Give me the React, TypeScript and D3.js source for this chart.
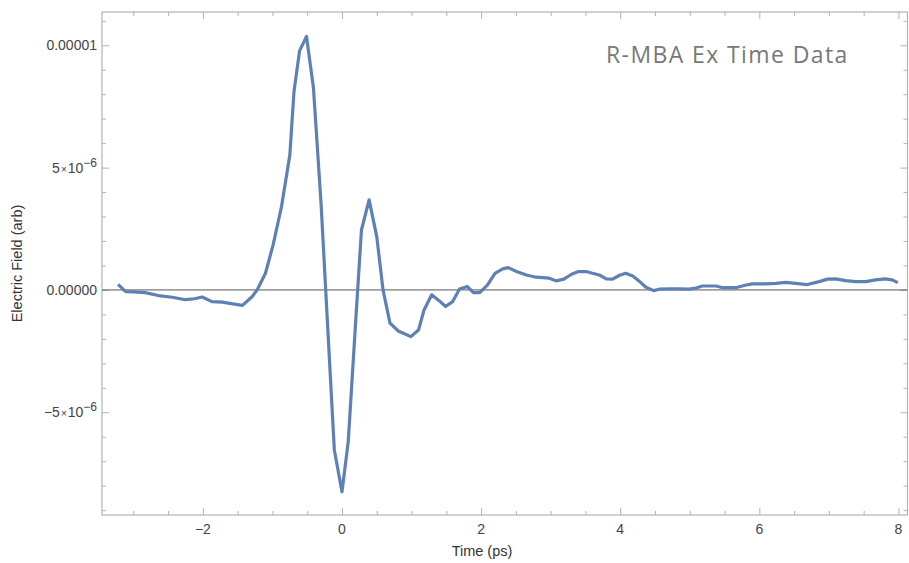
import React, { useEffect, useRef } from "react"
import * as d3 from "d3"

// time axis (ps) and electric field (units of 1e-6, arb)
const timePs = [
  -3.22, -3.11, -3.0, -2.83, -2.64, -2.44, -2.25, -2.12, -2.01, -1.87, -1.72, -1.57,
  -1.43, -1.29, -1.22, -1.1, -0.99, -0.87, -0.75, -0.69, -0.61, -0.51, -0.41, -0.3,
  -0.2, -0.11, 0.0, 0.09, 0.19, 0.28, 0.39, 0.5, 0.59, 0.69, 0.81, 0.99, 1.1, 1.18,
  1.29, 1.4, 1.49, 1.59, 1.69, 1.8, 1.89, 1.98, 2.09, 2.2, 2.31, 2.39, 2.51, 2.65,
  2.79, 2.98, 3.08, 3.19, 3.3, 3.4, 3.51, 3.6, 3.7, 3.8, 3.89, 3.99, 4.08, 4.18,
  4.28, 4.37, 4.48, 4.56, 4.71, 4.85, 4.99, 5.09, 5.18, 5.38, 5.47, 5.66, 5.81,
  5.9, 6.09, 6.24, 6.38, 6.52, 6.69, 6.86, 6.98, 7.1, 7.24, 7.38, 7.53, 7.67, 7.81,
  7.91, 7.99,
]
const fieldE6 = [
  0.23, -0.07, -0.08, -0.11, -0.23, -0.3, -0.4, -0.36, -0.29, -0.48, -0.5, -0.57,
  -0.63, -0.27, 0.0, 0.68, 1.84, 3.4, 5.5, 8.1, 9.77, 10.36, 8.25, 3.5,
  -1.8, -6.54, -8.25, -6.2, -1.6, 2.45, 3.68, 2.18, 0.0, -1.36, -1.68, -1.91, -1.64, -0.82,
  -0.2, -0.45, -0.68, -0.48, 0.04, 0.14, -0.11, -0.11, 0.2, 0.68, 0.86, 0.91, 0.75, 0.61,
  0.52, 0.48, 0.37, 0.44, 0.64, 0.75, 0.75, 0.68, 0.61, 0.45, 0.44, 0.6, 0.68, 0.57,
  0.34, 0.11, -0.03, 0.03, 0.04, 0.04, 0.03, 0.08, 0.16, 0.16, 0.09, 0.09, 0.2,
  0.25, 0.25, 0.27, 0.31, 0.27, 0.22, 0.34, 0.44, 0.45, 0.38, 0.34, 0.34, 0.41, 0.45,
  0.41, 0.3,
]

const xMajor = [-2, 0, 2, 4, 6, 8]
const xMinor = [-3, -2.5, -1.5, -1, -0.5, 0.5, 1, 1.5, 2.5, 3, 3.5, 4.5, 5, 5.5, 6.5, 7, 7.5]
const yMajor = [-5e-6, 0, 5e-6, 1e-5]
const yMinor = [-9e-6, -8e-6, -7e-6, -6e-6, -4e-6, -3e-6, -2e-6, -1e-6, 1e-6, 2e-6, 3e-6, 4e-6, 6e-6, 7e-6, 8e-6, 9e-6, 1.1e-5]
const yLabels = [
  { v: 1e-5, plain: "0.00001" },
  { v: 5e-6, mant: "5", exp: "\u22126" },
  { v: 0, plain: "0.00000" },
  { v: -5e-6, mant: "\u22125", exp: "\u22126" },
]

const title = "R-MBA Ex Time Data"
const xTitle = "Time (ps)"
const yTitle = "Electric Field (arb)"

function App() {
  const svgRef = useRef<SVGSVGElement | null>(null)

  useEffect(() => {
    const width = 909
    const height = 563
    const left = 102
    const right = 907.5
    const top = 12
    const bottom = 515

    const svg = d3.select(svgRef.current)
    svg.selectAll("*").remove()
    svg.attr("width", width).attr("height", height)

    const x = d3.scaleLinear().domain([-3.45, 8.13]).range([left, right])
    const y = d3.scaleLinear().domain([-9.2e-6, 1.136e-5]).range([bottom, top])

    const frameColor = "#b3b3b3"
    const font = "'Liberation Sans', Arial, sans-serif"

    // frame
    svg.append("rect")
      .attr("x", left).attr("y", top)
      .attr("width", right - left).attr("height", bottom - top)
      .attr("fill", "none").attr("stroke", frameColor).attr("stroke-width", 1.2)

    const styleAxis = (g: any) => {
      g.select(".domain").remove()
      g.selectAll("line").attr("stroke", frameColor).attr("stroke-width", 1)
    }

    // ticks pointing inward on all four sides
    const axes: [any, number, number, number[], number][] = [
      [d3.axisTop(x), 0, bottom, xMajor, 7],
      [d3.axisTop(x), 0, bottom, xMinor, 4],
      [d3.axisBottom(x), 0, top, xMajor, 7],
      [d3.axisBottom(x), 0, top, xMinor, 4],
      [d3.axisRight(y), left, 0, yMajor, 7],
      [d3.axisRight(y), left, 0, yMinor, 4],
      [d3.axisLeft(y), right, 0, yMajor, 7],
      [d3.axisLeft(y), right, 0, yMinor, 4],
    ]
    axes.forEach(([ax, tx, ty, vals, size]) => {
      svg.append("g")
        .attr("transform", `translate(${tx},${ty})`)
        .call(ax.tickValues(vals).tickSize(size).tickFormat(() => ""))
        .call(styleAxis)
    })

    // zero line
    svg.append("line")
      .attr("x1", left).attr("x2", right)
      .attr("y1", y(0)).attr("y2", y(0))
      .attr("stroke", "#555").attr("stroke-width", 1)

    // x tick labels
    svg.append("g")
      .selectAll("text")
      .data(xMajor)
      .join("text")
      .attr("x", (d) => x(d))
      .attr("y", bottom + 19)
      .attr("text-anchor", "middle")
      .attr("fill", "#444")
      .style("font-family", font)
      .style("font-size", "14px")
      .text((d) => (d < 0 ? "\u2212" + Math.abs(d) : String(d)))

    // y tick labels
    const yl = svg.append("g")
    yLabels.forEach((d) => {
      const t = yl.append("text")
        .attr("x", 97)
        .attr("y", y(d.v) + 5)
        .attr("text-anchor", "end")
        .attr("fill", "#444")
        .style("font-family", font)
        .style("font-size", "14px")
      if (d.plain) {
        t.text(d.plain)
      } else {
        t.append("tspan").text(d.mant)
        t.append("tspan").attr("dx", 1).style("font-size", "10px").text("\u00d7")
        t.append("tspan").attr("dx", 1).text("10")
        t.append("tspan").attr("dy", -6).style("font-size", "12px").text(d.exp)
      }
    })

    // axis titles
    svg.append("text")
      .attr("x", 482)
      .attr("y", 556)
      .attr("text-anchor", "middle")
      .attr("fill", "#333")
      .style("font-family", font)
      .style("font-size", "14.5px")
      .text(xTitle)

    svg.append("text")
      .attr("transform", `translate(22,${(top + bottom) / 2}) rotate(-90)`)
      .attr("text-anchor", "middle")
      .attr("fill", "#333")
      .style("font-family", font)
      .style("font-size", "14.5px")
      .text(yTitle)

    // data line
    const points = timePs.map((t, i) => [t, fieldE6[i] * 1e-6] as [number, number])
    const line = d3.line<[number, number]>()
      .x((d) => x(d[0]))
      .y((d) => y(d[1]))

    svg.append("path")
      .datum(points)
      .attr("d", line)
      .attr("fill", "none")
      .attr("stroke", "#5e81b5")
      .attr("stroke-width", 3.2)
      .attr("stroke-linejoin", "round")

    // plot title
    svg.append("text")
      .attr("x", 606)
      .attr("y", 63)
      .attr("fill", "#787878")
      .style("font-family", "'Open Sans', sans-serif")
      .style("font-size", "23px")
      .style("letter-spacing", "1.4px")
      .text(title)
  }, [])

  return (
    <svg
      ref={svgRef}
      style={{ position: "absolute", left: 0, top: 0, display: "block", background: "#fff" }}
    />
  )
}

export default App
